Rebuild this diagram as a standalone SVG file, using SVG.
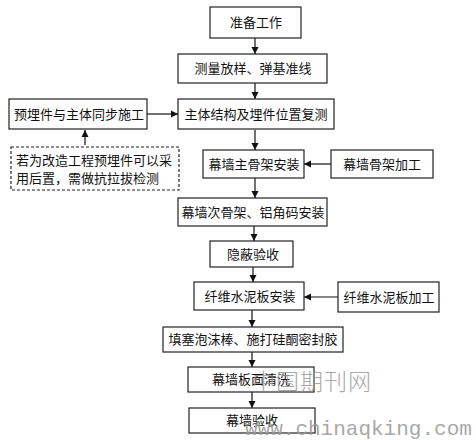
<svg xmlns="http://www.w3.org/2000/svg" width="476" height="440" viewBox="0 0 476 440">
<style>
.box{fill:#fff;stroke:#222;stroke-width:1.2}
.dash{fill:#fff;stroke:#222;stroke-width:1.2;stroke-dasharray:3,2}
.t{font-family:"Noto Sans CJK SC","Noto Sans",sans-serif;font-size:13px;fill:#111;text-anchor:middle}
.tl{font-family:"Noto Sans CJK SC","Noto Sans",sans-serif;font-size:13px;fill:#111}
.c{stroke:#111;stroke-width:1.2;fill:none;marker-end:url(#ah)}
.wm{fill:#9a9a9a;opacity:0.85}
</style>
<defs>
<marker id="ah" markerWidth="8" markerHeight="8" refX="7" refY="4" orient="auto" markerUnits="userSpaceOnUse">
<path d="M0,0.5 L7,4 L0,7.5 Z" fill="#111"/>
</marker>
</defs>
<rect width="476" height="440" fill="#fff"/>
<g id="connectors">
<line class="c" x1="255" y1="38" x2="255" y2="54"/>
<line class="c" x1="255" y1="83" x2="255" y2="99"/>
<line class="c" x1="147" y1="114" x2="178" y2="114"/>
<line class="c" x1="85" y1="145" x2="85" y2="130"/>
<line class="c" x1="255" y1="130" x2="255" y2="150"/>
<line class="c" x1="331" y1="164" x2="304" y2="164"/>
<line class="c" x1="255" y1="178" x2="255" y2="198"/>
<line class="c" x1="254" y1="226" x2="254" y2="241"/>
<line class="c" x1="253" y1="267" x2="253" y2="282"/>
<line class="c" x1="338" y1="297" x2="304" y2="297"/>
<line class="c" x1="252" y1="310" x2="252" y2="327"/>
<line class="c" x1="252" y1="352" x2="252" y2="367"/>
<line class="c" x1="252" y1="392" x2="252" y2="408"/>
</g>
<g id="n1"><rect class="box" x="210" y="7" width="91" height="31"/><text class="t" x="256" y="27">准备工作</text></g>
<g id="n2"><rect class="box" x="178" y="54" width="149" height="29"/><text class="t" x="253" y="73">测量放样、弹基准线</text></g>
<g id="n3"><rect class="box" x="178" y="99" width="156" height="30"/><text class="t" x="256" y="119">主体结构及埋件位置复测</text></g>
<g id="n4"><rect class="box" x="9" y="99" width="138" height="30"/><text class="t" x="79" y="119">预埋件与主体同步施工</text></g>
<g id="n5"><rect class="dash" x="11" y="147" width="168" height="43"/><text class="tl" x="16" y="165">若为改造工程预埋件可以采</text><text class="tl" x="16" y="183">用后置，需做抗拉拔检测</text></g>
<g id="n6"><rect class="box" x="203" y="150" width="101" height="28"/><text class="t" x="254" y="169">幕墙主骨架安装</text></g>
<g id="n7"><rect class="box" x="331" y="150" width="102" height="28"/><text class="t" x="382" y="169">幕墙骨架加工</text></g>
<g id="n8"><rect class="box" x="178" y="198" width="149" height="28"/><text class="t" x="253" y="217">幕墙次骨架、铝角码安装</text></g>
<g id="n9"><rect class="box" x="210" y="241" width="83" height="26"/><text class="t" x="253" y="259">隐蔽验收</text></g>
<g id="n10"><rect class="box" x="194" y="282" width="110" height="28"/><text class="t" x="250" y="301">纤维水泥板安装</text></g>
<g id="n11"><rect class="box" x="338" y="282" width="101" height="30"/><text class="t" x="389" y="302">纤维水泥板加工</text></g>
<g id="n12"><rect class="box" x="163" y="327" width="180" height="25"/><text class="t" x="253" y="344">填塞泡沫棒、施打硅酮密封胶</text></g>
<g id="n13"><rect class="box" x="188" y="367" width="126" height="25"/><text class="t" x="251" y="384">幕墙板面清洗</text></g>
<g id="n14"><rect class="box" x="189" y="408" width="126" height="25"/><text class="t" x="252" y="425">幕墙验收</text></g>
<g id="watermark" class="wm">
<text x="252" y="390" font-family="'Noto Sans CJK SC',sans-serif" font-size="23" letter-spacing="1" font-weight="300">中国期刊网</text>
<text x="245" y="435" font-family="'Liberation Mono',monospace" font-size="21">www.chinaqking.com</text>
</g>
</svg>
